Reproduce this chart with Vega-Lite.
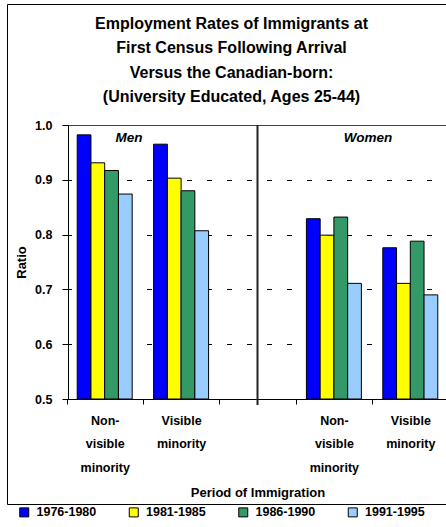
{
  "$schema": "https://vega.github.io/schema/vega-lite/v6.json",
  "autosize": {"type": "none"},
  "padding": {"left": 7, "top": 4, "right": 0, "bottom": 23},
  "width": 439,
  "height": 500,
  "background": "white",
  "config": {
    "font": "Liberation Sans",
    "view": {"stroke": "black", "strokeWidth": 1, "fill": "white"},
    "axis": {"labelColor": "black", "titleColor": "black", "domainColor": "black", "tickColor": "black", "domainWidth": 1, "tickWidth": 1}
  },
  "title": {
    "text": ["Employment Rates of Immigrants at", "First Census Following Arrival", "Versus the Canadian-born:", "(University Educated, Ages 25-44)"],
    "fontSize": 16,
    "fontWeight": "bold",
    "color": "black",
    "lineHeight": 24.4,
    "anchor": "middle",
    "frame": "group",
    "baseline": "top",
    "offset": 0,
    "dy": 101,
    "dx": 5
  },
  "datasets": {
    "bars": [
      {"slot": "M-NV", "period": "1976-1980", "ratio": 0.982},
      {"slot": "M-NV", "period": "1981-1985", "ratio": 0.931},
      {"slot": "M-NV", "period": "1986-1990", "ratio": 0.917},
      {"slot": "M-NV", "period": "1991-1995", "ratio": 0.874},
      {"slot": "M-V", "period": "1976-1980", "ratio": 0.965},
      {"slot": "M-V", "period": "1981-1985", "ratio": 0.903},
      {"slot": "M-V", "period": "1986-1990", "ratio": 0.880},
      {"slot": "M-V", "period": "1991-1995", "ratio": 0.807},
      {"slot": "W-NV", "period": "1976-1980", "ratio": 0.829},
      {"slot": "W-NV", "period": "1981-1985", "ratio": 0.799},
      {"slot": "W-NV", "period": "1986-1990", "ratio": 0.832},
      {"slot": "W-NV", "period": "1991-1995", "ratio": 0.711},
      {"slot": "W-V", "period": "1976-1980", "ratio": 0.776},
      {"slot": "W-V", "period": "1981-1985", "ratio": 0.711},
      {"slot": "W-V", "period": "1986-1990", "ratio": 0.788},
      {"slot": "W-V", "period": "1991-1995", "ratio": 0.690}
    ],
    "panels": [
      {"panel": "Men", "slot": "M-NV"},
      {"panel": "Women", "slot": "W-NV"}
    ],
    "divider": [{"slot": "GAP"}]
  },
  "layer": [
    {
      "data": {"name": "bars"},
      "mark": {"type": "bar", "stroke": "black", "strokeWidth": 1, "opacity": 1},
      "encoding": {
        "x": {
          "field": "slot",
          "type": "nominal",
          "scale": {"domain": ["M-NV", "M-V", "GAP", "W-NV", "W-V"], "range": [59.5, 441.5], "paddingInner": 0, "paddingOuter": 0},
          "axis": {
            "orient": "bottom",
            "offset": -105,
            "title": "Period of Immigration",
            "titleFontSize": 13,
            "titleFontWeight": "bold",
            "titlePadding": 13,
            "labelExpr": "(datum.value == 'M-NV' || datum.value == 'W-NV') ? ['Non-', 'visible', 'minority'] : (datum.value == 'M-V' || datum.value == 'W-V') ? ['Visible', 'minority'] : ''",
            "labelAngle": 0,
            "labelFontSize": 12.5,
            "labelFontWeight": "bold",
            "labelLineHeight": 23.5,
            "labelPadding": 10,
            "labelLimit": 200,
            "tickBand": "extent",
            "tickSize": 5,
            "grid": false
          }
        },
        "xOffset": {
          "field": "period",
          "type": "nominal",
          "scale": {"paddingInner": 0, "paddingOuter": 0.78}
        },
        "y": {
          "field": "ratio",
          "type": "quantitative",
          "scale": {"domain": [0.5, 1], "range": [395, 121], "nice": false, "zero": false},
          "axis": {
            "orient": "left",
            "offset": -61,
            "values": [0.5, 0.6, 0.7, 0.8, 0.9, 1.0],
            "format": ".1f",
            "title": "Ratio",
            "titleFontSize": 13,
            "titleFontWeight": "bold",
            "titlePadding": 6,
            "labelFontSize": 12.5,
            "labelFontWeight": "bold",
            "labelPadding": 10,
            "tickSize": 6,
            "grid": true,
            "gridColor": {"condition": {"test": "datum.value == 1", "value": "#444444"}, "value": "black"},
            "gridDash": {"condition": {"test": "datum.value == 1", "value": []}, "value": [5, 15]},
            "gridWidth": 1
          }
        },
        "y2": {"datum": 0.5},
        "fill": {
          "field": "period",
          "type": "nominal",
          "scale": {"domain": ["1976-1980", "1981-1985", "1986-1990", "1991-1995"], "range": ["#0000FF", "#FFFF00", "#339966", "#99CCFF"]},
          "legend": {
            "orient": "none",
            "legendX": 11,
            "legendY": 502,
            "direction": "horizontal",
            "columns": 4,
            "columnPadding": 29.5,
            "title": null,
            "symbolType": "square",
            "symbolSize": 81,
            "symbolStrokeColor": "black",
            "symbolStrokeWidth": 1,
            "symbolOpacity": 1,
            "labelFontSize": 12.5,
            "labelFontWeight": "bold",
            "labelColor": "black",
            "labelOffset": 6
          }
        }
      }
    },
    {
      "data": {"name": "divider"},
      "mark": {"type": "rule", "color": "#222222", "strokeWidth": 2},
      "encoding": {
        "x": {"field": "slot", "type": "nominal"},
        "y": {"datum": 1, "type": "quantitative"},
        "y2": {"datum": 0.489}
      }
    },
    {
      "data": {"name": "panels"},
      "transform": [{"filter": "datum.panel == 'Men'"}],
      "mark": {"type": "text", "fontSize": 13.5, "fontWeight": "bold", "fontStyle": "italic", "baseline": "alphabetic", "align": "center", "dy": 17, "color": "black"},
      "encoding": {
        "x": {"field": "slot", "type": "nominal", "bandPosition": 0.818},
        "y": {"datum": 1, "type": "quantitative"},
        "text": {"field": "panel"}
      }
    },
    {
      "data": {"name": "panels"},
      "transform": [{"filter": "datum.panel == 'Women'"}],
      "mark": {"type": "text", "fontSize": 13.5, "fontWeight": "bold", "fontStyle": "italic", "baseline": "alphabetic", "align": "center", "dy": 17, "color": "black"},
      "encoding": {
        "x": {"field": "slot", "type": "nominal", "bandPosition": 0.946},
        "y": {"datum": 1, "type": "quantitative"},
        "text": {"field": "panel"}
      }
    }
  ]
}
